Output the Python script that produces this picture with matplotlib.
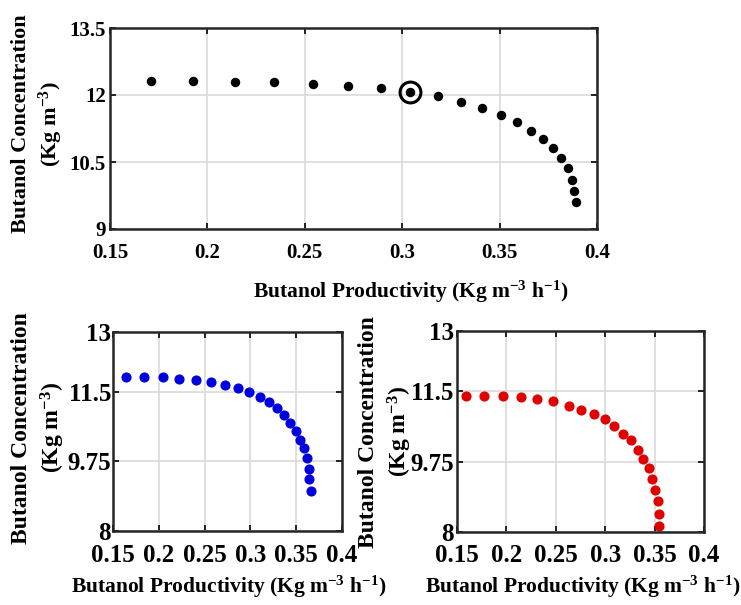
import matplotlib
matplotlib.use("Agg")
import matplotlib.pyplot as plt

plt.rcParams['font.family'] = ['Liberation Serif', 'DejaVu Serif']
plt.rcParams['mathtext.fontset'] = 'custom'
plt.rcParams['mathtext.rm'] = 'Liberation Serif:bold'
plt.rcParams['mathtext.default'] = 'rm'

# top panel (black)
prod_top = [0.171, 0.1926, 0.214, 0.2344, 0.254, 0.2722, 0.289, 0.3042, 0.3182, 0.3303,
            0.3411, 0.3507, 0.3591, 0.3663, 0.3724, 0.3774, 0.3817, 0.3849, 0.387, 0.3882, 0.389]
conc_top = [12.31, 12.31, 12.29, 12.29, 12.25, 12.20, 12.16, 12.06, 11.97, 11.85,
            11.72, 11.55, 11.39, 11.20, 11.02, 10.82, 10.59, 10.36, 10.10, 9.85, 9.60]
chosen_prod = 0.3042
chosen_conc = 12.06

# bottom left (blue)
prod_blue = [0.1639, 0.1842, 0.2042, 0.2224, 0.2402, 0.2573, 0.2723, 0.2861, 0.2988, 0.3101,
             0.32, 0.3287, 0.3367, 0.3436, 0.3495, 0.3541, 0.3585, 0.3618, 0.3636, 0.3643, 0.3658]
conc_blue = [11.88, 11.86, 11.86, 11.83, 11.80, 11.75, 11.67, 11.59, 11.49, 11.36,
             11.24, 11.08, 10.91, 10.72, 10.52, 10.29, 10.08, 9.83, 9.55, 9.30, 9.01]

# bottom right (red)
prod_red = [0.1594, 0.1777, 0.1969, 0.2145, 0.2313, 0.2475, 0.2631, 0.2752, 0.2887, 0.2998,
            0.3093, 0.3184, 0.3258, 0.3329, 0.3386, 0.344, 0.3477, 0.3507, 0.3534, 0.3544, 0.3544]
conc_red = [11.38, 11.38, 11.38, 11.35, 11.30, 11.25, 11.13, 11.04, 10.94, 10.80,
            10.64, 10.45, 10.28, 10.05, 9.82, 9.58, 9.32, 9.04, 8.76, 8.46, 8.14]

xticks = [0.15, 0.2, 0.25, 0.3, 0.35, 0.4]
xticklabels = ['0.15', '0.2', '0.25', '0.3', '0.35', '0.4']
yticks_top = [9, 10.5, 12, 13.5]
yticks_bot = [8, 9.75, 11.5, 13]

xlabel = 'Butanol Productivity (Kg m$^{-3}$ h$^{-1}$)'
ylabel = 'Butanol Concentration\n(Kg m$^{-3}$)'

W, H = 741, 605
fig = plt.figure(figsize=(W / 100, H / 100), dpi=100)


def make_ax(x0, y0, x1, y1):
    return fig.add_axes([x0 / W, 1 - y1 / H, (x1 - x0) / W, (y1 - y0) / H])


def label_at(x, y, s, fs, rot=0, ls=1.2):
    fig.text(x / W, 1 - y / H, s, fontsize=fs, fontweight='bold', rotation=rot,
             ha='center', va='center', multialignment='center', linespacing=ls)


def style(ax, yticks, ylim, fs, xpad, ypad):
    ax.set_xlim(0.15, 0.4)
    ax.set_ylim(*ylim)
    ax.set_xticks(xticks)
    ax.set_xticklabels(xticklabels)
    ax.set_yticks(yticks)
    ax.set_yticklabels([('%g' % t) for t in yticks])
    ax.grid(True, color='#d9d9d9', linewidth=1.2)
    ax.set_axisbelow(True)
    ax.tick_params(direction='in', top=True, right=True, length=4, width=1.2,
                   labelsize=fs)
    ax.tick_params(axis='x', pad=xpad)
    ax.tick_params(axis='y', pad=ypad)
    for lab in ax.get_xticklabels() + ax.get_yticklabels():
        lab.set_fontweight('bold')
    for s in ax.spines.values():
        s.set_linewidth(1.8)
        s.set_color('#262626')


ax1 = make_ax(110, 28, 597, 229)
style(ax1, yticks_top, (9, 13.5), 15, 10, 3)
ax1.plot(prod_top, conc_top, 'o', color='black', markersize=5.8)
ax1.plot([chosen_prod], [chosen_conc], 'o', markerfacecolor='none',
         markeredgecolor='black', markeredgewidth=2.2, markersize=15)
label_at(411, 292, xlabel, 15.5)
label_at(38, 124, ylabel, 16, rot=90, ls=1.3)

ax2 = make_ax(113, 332, 342, 531)
style(ax2, yticks_bot, (8, 13), 18, 9, 1.5)
ax2.plot(prod_blue, conc_blue, 'o', color='#0000dd', markersize=6.3)
label_at(229, 587, xlabel, 15.5)
label_at(39, 428, ylabel, 17, rot=90, ls=1.35)

ax3 = make_ax(457, 331, 704, 532)
style(ax3, yticks_bot, (8, 13), 18, 9, 2.5)
ax3.plot(prod_red, conc_red, 'o', color='#e00000', markersize=6.3)
label_at(583, 587, xlabel, 15.5)
label_at(386, 432, ylabel, 17, rot=90, ls=1.35)

fig.savefig('out.png', dpi=100)
